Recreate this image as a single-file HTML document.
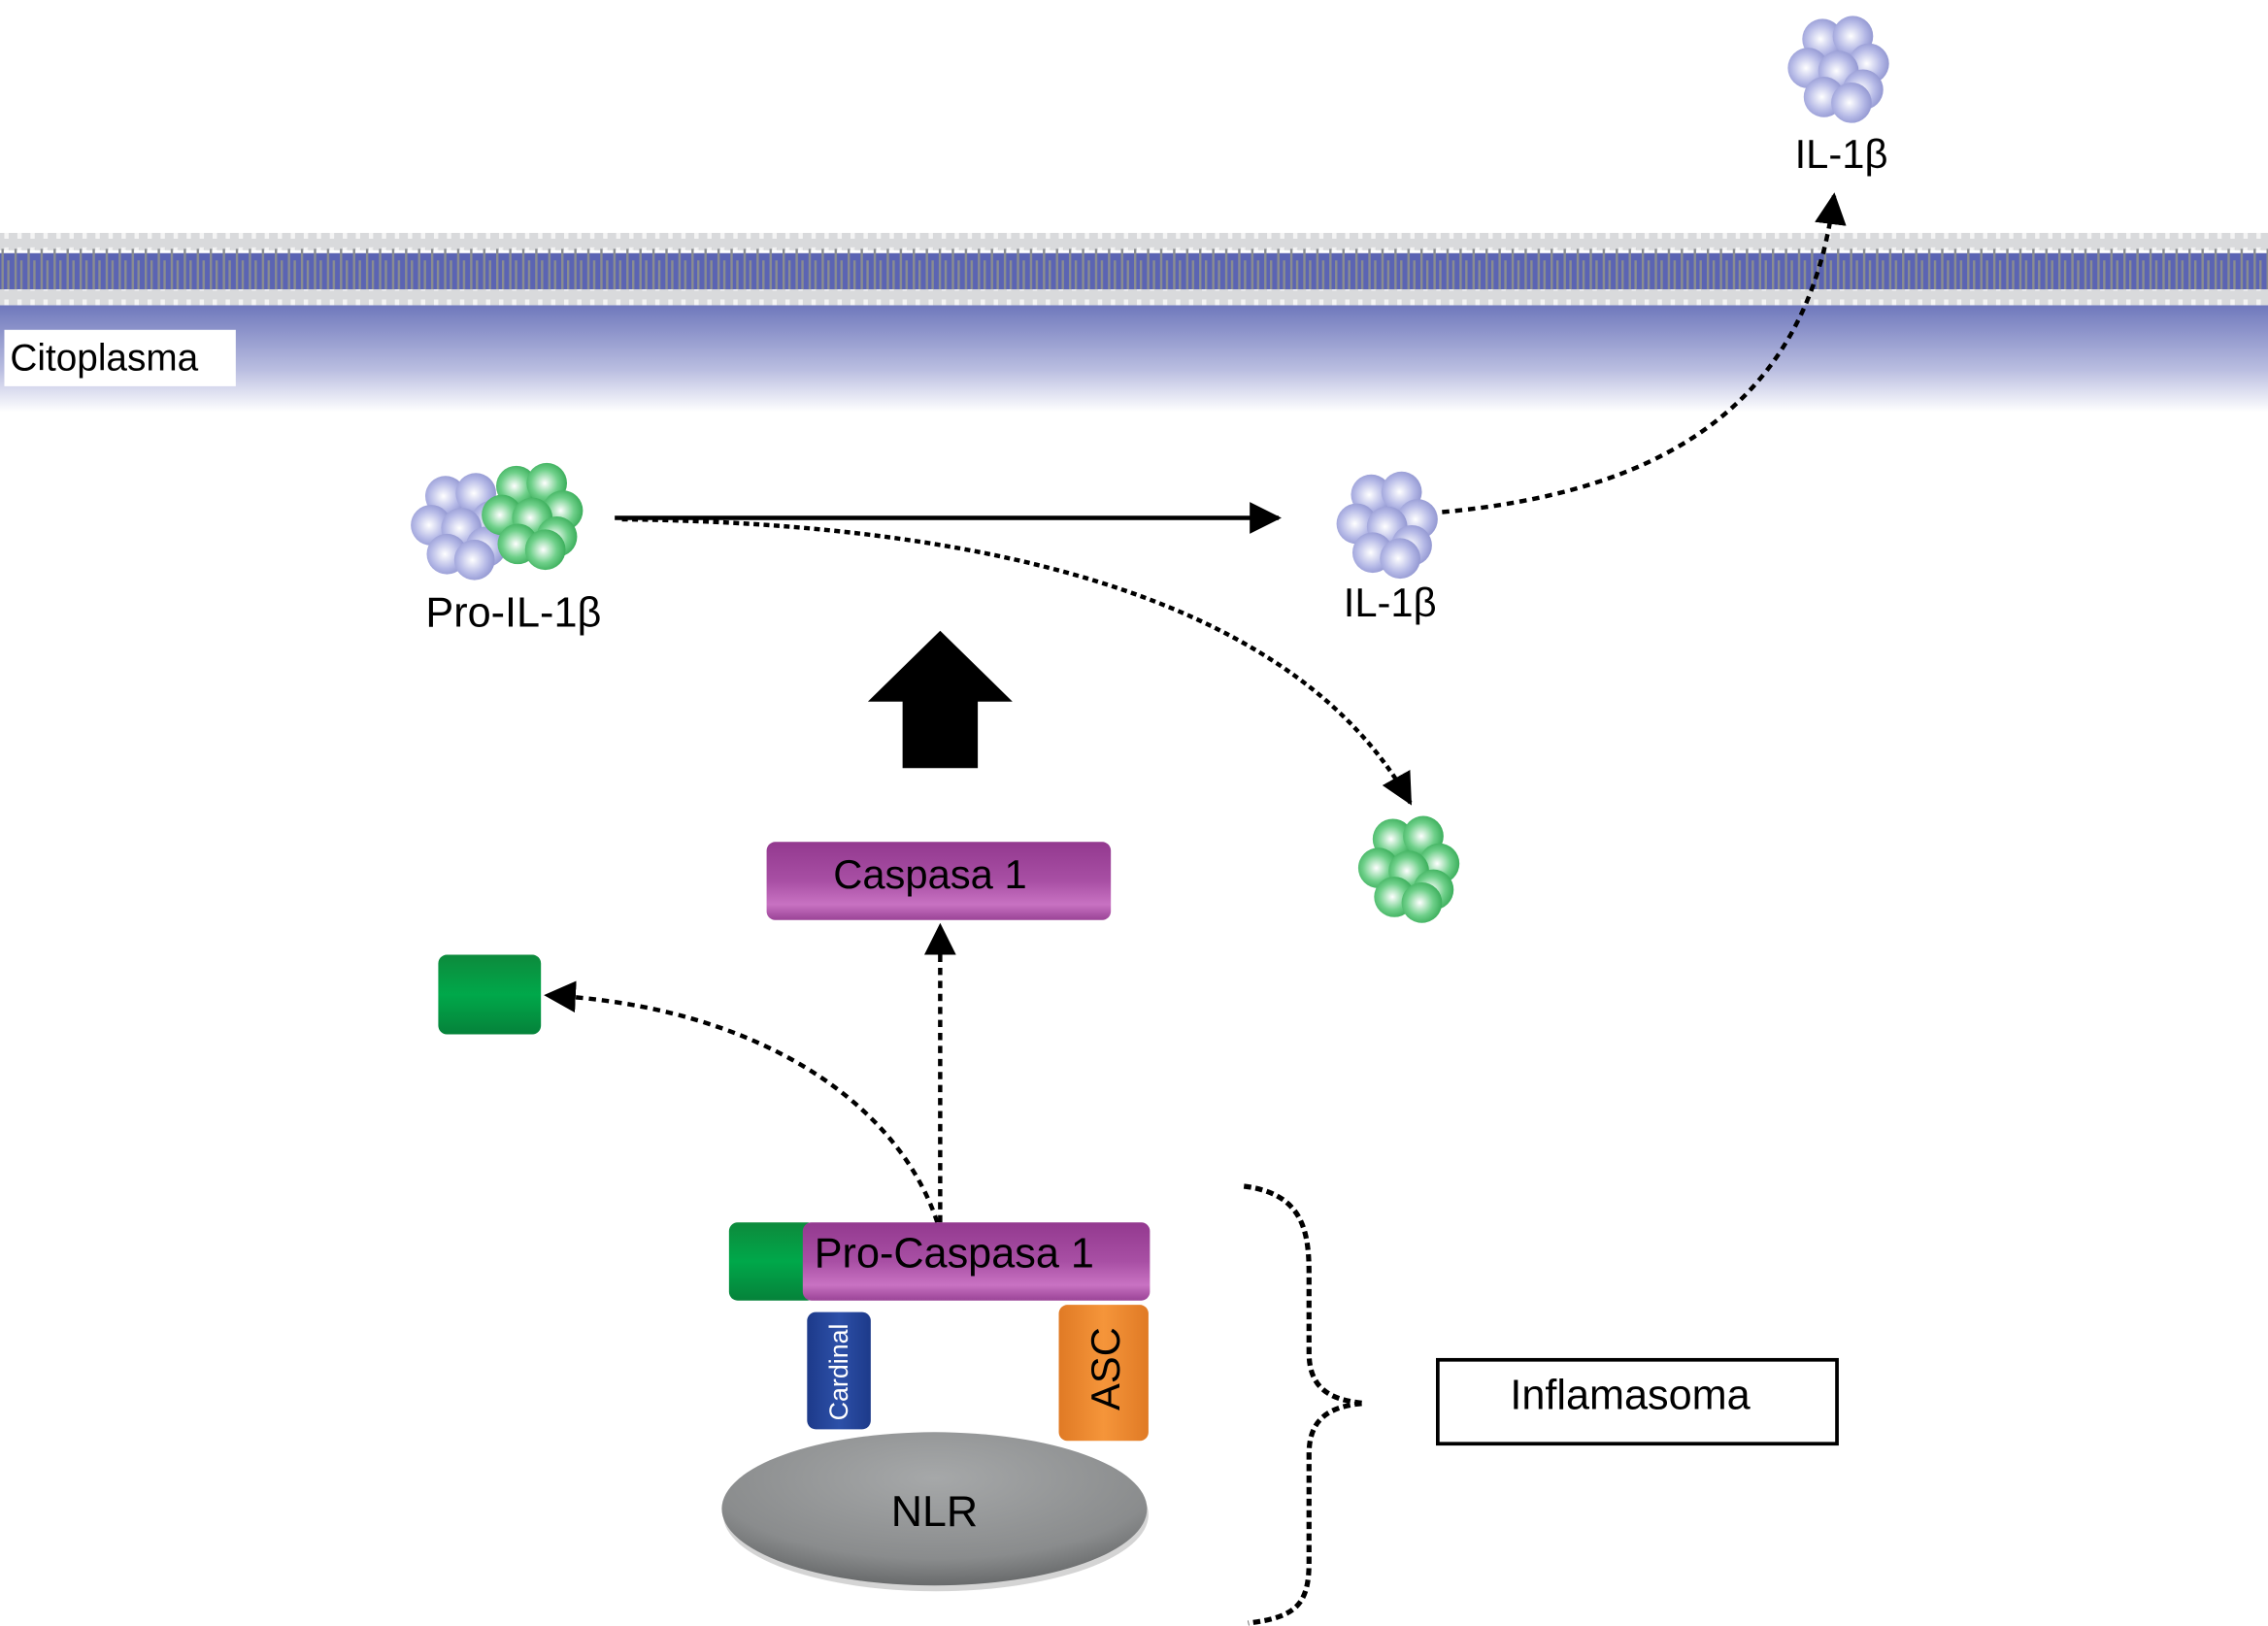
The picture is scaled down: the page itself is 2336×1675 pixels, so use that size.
<!DOCTYPE html>
<html><head><meta charset="utf-8"><style>
html,body{margin:0;padding:0;background:#fff;}
svg{display:block;}
text{font-family:"Liberation Sans",sans-serif;}
</style></head><body>
<svg width="2336" height="1675" viewBox="0 0 1568 1124" preserveAspectRatio="none" xmlns="http://www.w3.org/2000/svg">
<defs>
<radialGradient id="gp" cx="0.45" cy="0.5" r="0.6"><stop offset="0" stop-color="#ffffff"/><stop offset="0.6" stop-color="#b4b8e6"/><stop offset="1" stop-color="#8a8fcc"/></radialGradient>
<radialGradient id="gg" cx="0.45" cy="0.5" r="0.6"><stop offset="0" stop-color="#ffffff"/><stop offset="0.55" stop-color="#6fd08a"/><stop offset="1" stop-color="#2fa650"/></radialGradient>
<linearGradient id="cyto" x1="0" y1="0" x2="0" y2="1"><stop offset="0" stop-color="#6f78bc"/><stop offset="0.6" stop-color="#b9bde0"/><stop offset="1" stop-color="#ffffff"/></linearGradient>
<linearGradient id="purp" x1="0" y1="0" x2="0" y2="1"><stop offset="0" stop-color="#93398f"/><stop offset="0.5" stop-color="#a84fa4"/><stop offset="0.8" stop-color="#c872c2"/><stop offset="1" stop-color="#9a4396"/></linearGradient>
<linearGradient id="grn" x1="0" y1="0" x2="0" y2="1"><stop offset="0" stop-color="#0d8a3c"/><stop offset="0.5" stop-color="#00a84a"/><stop offset="1" stop-color="#05823a"/></linearGradient>
<linearGradient id="blu" x1="0" y1="0" x2="1" y2="0"><stop offset="0" stop-color="#1d3a8a"/><stop offset="0.5" stop-color="#2d50a8"/><stop offset="1" stop-color="#1d3a8a"/></linearGradient>
<linearGradient id="org" x1="0" y1="0" x2="1" y2="0"><stop offset="0" stop-color="#e07a25"/><stop offset="0.5" stop-color="#f5953a"/><stop offset="1" stop-color="#e07a25"/></linearGradient>
<radialGradient id="gray" cx="0.5" cy="0.3" r="0.75"><stop offset="0" stop-color="#a6a8a9"/><stop offset="0.7" stop-color="#8a8c8d"/><stop offset="1" stop-color="#5f6162"/></radialGradient>
<pattern id="lip" x="0" y="0" width="9" height="30" patternUnits="userSpaceOnUse">
<rect x="1" y="0" width="1.6" height="30" fill="#8a8d90"/><rect x="5" y="0" width="1.6" height="22" fill="#8a8d90"/>
</pattern>
<pattern id="head" x="0" y="0" width="9" height="12" patternUnits="userSpaceOnUse">
<rect width="9" height="12" fill="#d9dadc"/><rect x="3" y="3" width="3" height="6" fill="#f4f4f4"/>
</pattern>
<g id="pc">
<circle cx="-12" cy="-18" r="14" fill="url(#gp)"/><circle cx="9" cy="-20" r="14" fill="url(#gp)"/>
<circle cx="-22" cy="2" r="14" fill="url(#gp)"/><circle cx="20" cy="-1" r="14" fill="url(#gp)"/>
<circle cx="-1" cy="4" r="14" fill="url(#gp)"/><circle cx="-11" cy="22" r="14" fill="url(#gp)"/>
<circle cx="16" cy="17" r="14" fill="url(#gp)"/><circle cx="8" cy="26" r="14" fill="url(#gp)"/>
</g>
<g id="gc">
<circle cx="-12" cy="-18" r="14" fill="url(#gg)"/><circle cx="9" cy="-20" r="14" fill="url(#gg)"/>
<circle cx="-22" cy="2" r="14" fill="url(#gg)"/><circle cx="20" cy="-1" r="14" fill="url(#gg)"/>
<circle cx="-1" cy="4" r="14" fill="url(#gg)"/><circle cx="-11" cy="22" r="14" fill="url(#gg)"/>
<circle cx="16" cy="17" r="14" fill="url(#gg)"/><circle cx="8" cy="26" r="14" fill="url(#gg)"/>
</g>
<marker id="ah" markerWidth="10" markerHeight="10" refX="8" refY="5" orient="auto" markerUnits="userSpaceOnUse" viewBox="0 0 10 10"><path d="M0,0 L10,5 L0,10 Z" fill="#000"/></marker>
<marker id="ah2" markerWidth="22" markerHeight="22" refX="20" refY="11" orient="auto" markerUnits="userSpaceOnUse" viewBox="0 0 22 22"><path d="M0,0 L22,11 L0,22 Z" fill="#000"/></marker>
</defs>

<!-- membrane -->
<rect x="0" y="161" width="1568" height="12" fill="url(#head)"/>
<rect x="0" y="175" width="1568" height="26" fill="#5b64b3"/>
<rect x="0" y="172" width="1568" height="28" fill="url(#lip)"/>
<rect x="0" y="211" width="1568" height="74" fill="url(#cyto)"/>
<rect x="0" y="200" width="1568" height="11" fill="url(#head)"/>
<rect x="3" y="228" width="160" height="39" fill="#fff"/>
<text x="7" y="256" font-size="26">Citoplasma</text>

<!-- top IL-1b -->
<use href="#pc" x="1272" y="45"/>
<text x="1273" y="116" font-size="28" text-anchor="middle">IL-1β</text>

<!-- Pro-IL-1b -->
<use href="#pc" x="320" y="361"/>
<use href="#gc" x="369" y="354"/>
<text x="355" y="433" font-size="29" text-anchor="middle">Pro-IL-1β</text>

<!-- IL-1b middle -->
<use href="#pc" x="960" y="360"/>
<text x="961" y="426" font-size="28" text-anchor="middle">IL-1β</text>

<!-- green cluster -->
<use href="#gc" x="975" y="598"/>

<!-- arrows -->
<line x1="425" y1="358" x2="884" y2="358" stroke="#000" stroke-width="3" marker-end="url(#ah2)"/>
<path d="M430,359 C700,362 900,420 975,555" fill="none" stroke="#000" stroke-width="3" stroke-dasharray="4,3" marker-end="url(#ah2)"/>
<path d="M997,354 C1150,340 1250,280 1268,135" fill="none" stroke="#000" stroke-width="3" stroke-dasharray="5,4" marker-end="url(#ah2)"/>

<!-- big arrow -->
<path d="M600,485 L650,436 L700,485 L676,485 L676,531 L624,531 L624,485 Z" fill="#000"/>

<!-- Caspasa 1 -->
<rect x="530" y="582" width="238" height="54" rx="6" fill="url(#purp)"/>
<text x="643" y="614" font-size="28" text-anchor="middle">Caspasa 1</text>

<path d="M650,845 L650,640" fill="none" stroke="#000" stroke-width="3" stroke-dasharray="5,4" marker-end="url(#ah2)"/>
<path d="M648,845 C620,760 520,695 378,688" fill="none" stroke="#000" stroke-width="3" stroke-dasharray="5,4" marker-end="url(#ah2)"/>

<!-- small green box -->
<rect x="303" y="660" width="71" height="55" rx="6" fill="url(#grn)"/>

<!-- Pro-Caspasa -->
<rect x="504" y="845" width="60" height="54" rx="6" fill="url(#grn)"/>
<rect x="555" y="845" width="240" height="54" rx="6" fill="url(#purp)"/>
<text x="563" y="876" font-size="29">Pro-Caspasa 1</text>

<rect x="558" y="907" width="44" height="81" rx="6" fill="url(#blu)"/>
<text transform="translate(586,982) rotate(-90)" font-size="18" fill="#fff">Cardinal</text>
<rect x="732" y="902" width="62" height="94" rx="6" fill="url(#org)"/>
<text transform="translate(774,975) rotate(-90)" font-size="28" fill="#000">ASC</text>

<ellipse cx="647" cy="1047" rx="147" ry="53" fill="#555" opacity="0.25"/>
<ellipse cx="646" cy="1043" rx="147" ry="53" fill="url(#gray)"/>
<text x="646" y="1055" font-size="30" text-anchor="middle">NLR</text>

<!-- brace -->
<path d="M860,820 C900,825 905,850 905,880 L905,935 C905,960 920,968 943,970 C920,972 905,980 905,1005 L905,1080 C905,1110 895,1118 863,1122" fill="none" stroke="#000" stroke-width="3.5" stroke-dasharray="5,3"/>

<rect x="994" y="940" width="276" height="58" fill="#fff" stroke="#000" stroke-width="2.5"/>
<text x="1127" y="974" font-size="29" text-anchor="middle">Inflamasoma</text>
</svg>
</body></html>
